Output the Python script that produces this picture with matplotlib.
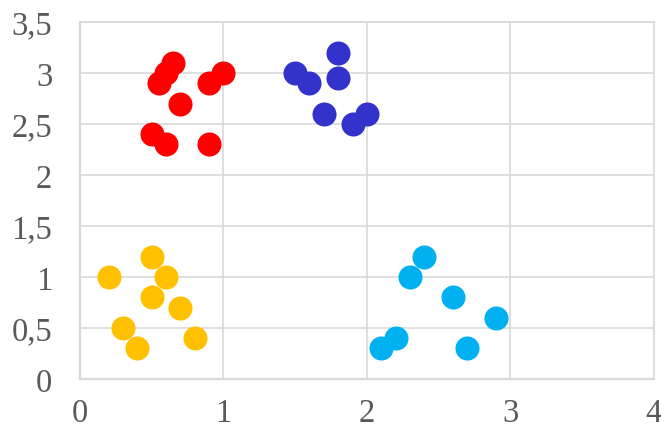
import matplotlib
matplotlib.use("Agg")
import matplotlib.pyplot as plt
from matplotlib.ticker import FuncFormatter

# Four point clusters
red_x = [0.55, 0.6, 0.65, 0.7, 0.9, 1.0, 0.5, 0.6, 0.9]
red_y = [2.9, 3.0, 3.1, 2.7, 2.9, 3.0, 2.4, 2.3, 2.3]

blue_x = [1.5, 1.6, 1.8, 1.8, 1.7, 1.9, 2.0]
blue_y = [3.0, 2.9, 3.2, 2.95, 2.6, 2.5, 2.6]

yellow_x = [0.2, 0.5, 0.6, 0.5, 0.7, 0.3, 0.4, 0.8]
yellow_y = [1.0, 1.2, 1.0, 0.8, 0.7, 0.5, 0.3, 0.4]

cyan_x = [2.4, 2.3, 2.6, 2.9, 2.7, 2.2, 2.1]
cyan_y = [1.2, 1.0, 0.8, 0.6, 0.3, 0.4, 0.3]

x_ticks = [0, 1, 2, 3, 4]
y_ticks = [0, 0.5, 1, 1.5, 2, 2.5, 3, 3.5]

plt.rcParams["font.family"] = ["Liberation Serif", "DejaVu Serif"]

fig = plt.figure(figsize=(6.61, 4.31), dpi=100)
ax = fig.add_axes([0.121, 0.1183, 0.868, 0.8283])

size = 300
ax.scatter(red_x, red_y, s=size, color="#FF0000", linewidths=0, zorder=3)
ax.scatter(blue_x, blue_y, s=size, color="#3333CC", linewidths=0, zorder=3)
ax.scatter(yellow_x, yellow_y, s=size, color="#FFC000", linewidths=0, zorder=3)
ax.scatter(cyan_x, cyan_y, s=size, color="#00B0F0", linewidths=0, zorder=3)

ax.set_xlim(0, 4)
ax.set_ylim(0, 3.5)
ax.set_xticks(x_ticks)
ax.set_yticks(y_ticks)

fmt = FuncFormatter(lambda v, p: f"{v:g}".replace(".", ","))
ax.xaxis.set_major_formatter(fmt)
ax.yaxis.set_major_formatter(fmt)

ax.grid(True, color="#D9D9D9", linewidth=1.2, zorder=0)
for s in ax.spines.values():
    s.set_color("#D9D9D9")
    s.set_linewidth(1.2)
ax.spines["bottom"].set_linewidth(1.6)
ax.spines["left"].set_linewidth(1.6)

ax.tick_params(length=0, labelsize=23.5, labelcolor="#595959")
ax.tick_params(axis="y", pad=20)
ax.tick_params(axis="x", pad=13.5)

fig.savefig("out.png", dpi=100)
